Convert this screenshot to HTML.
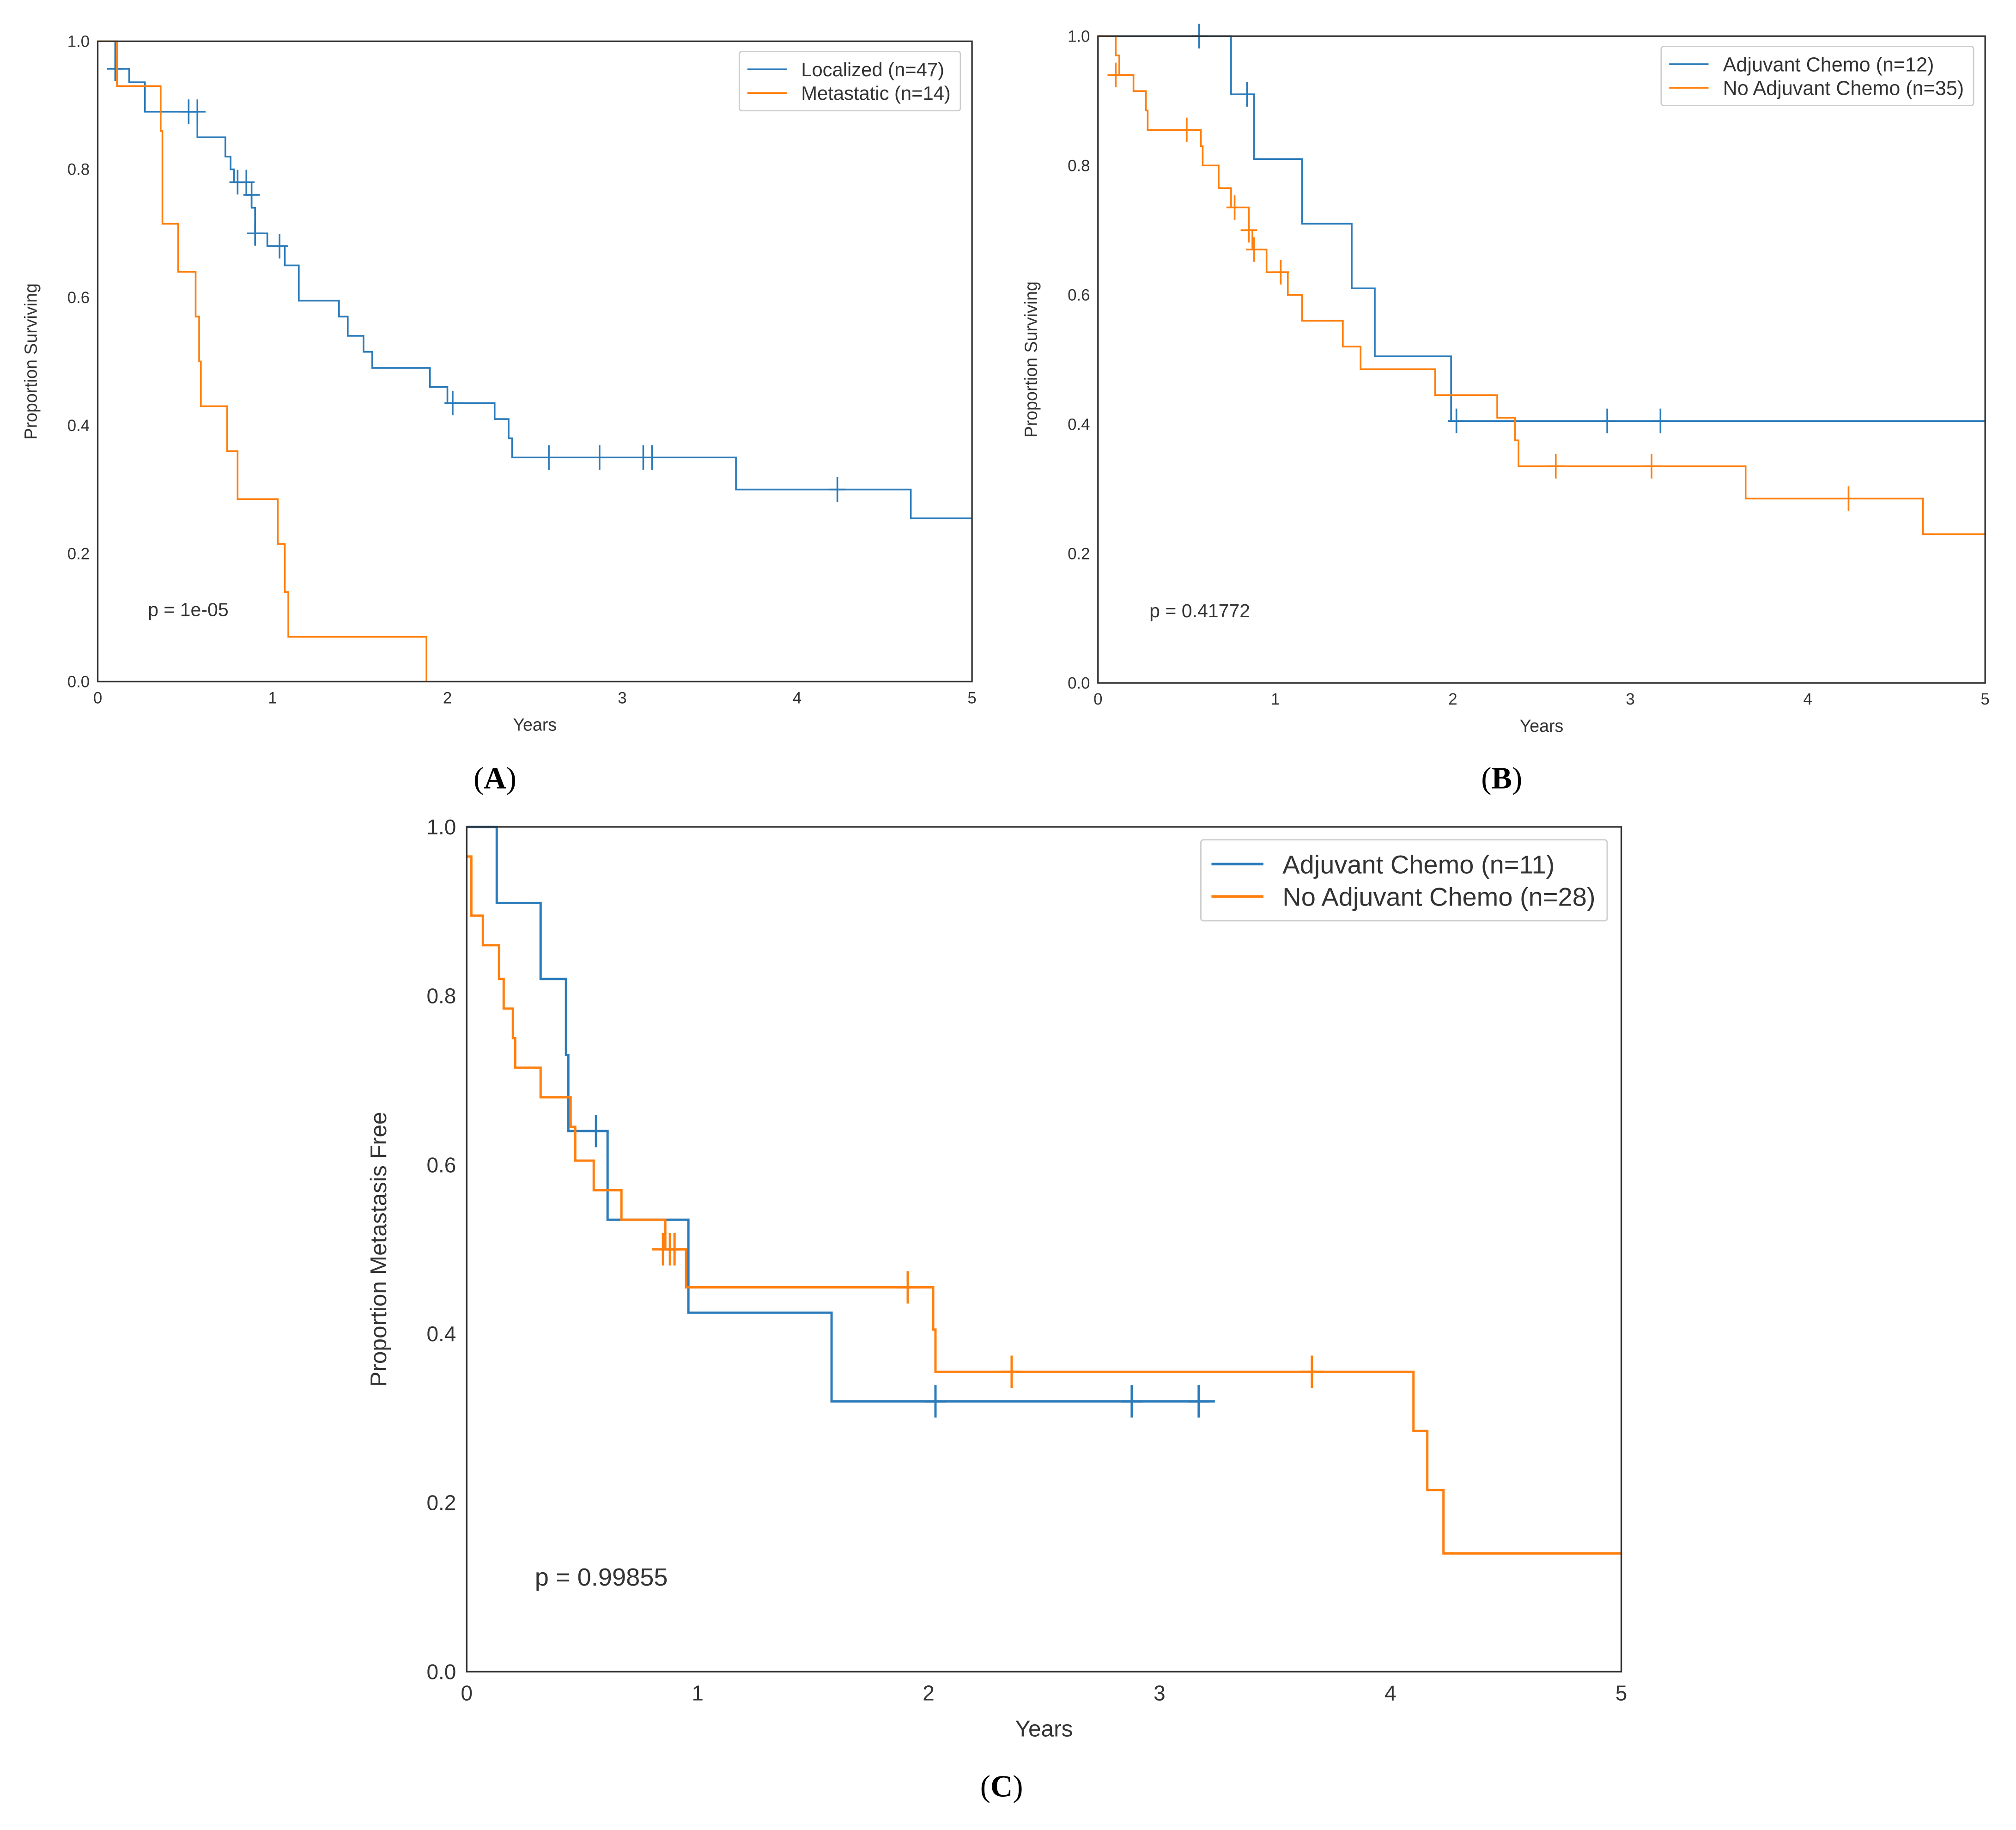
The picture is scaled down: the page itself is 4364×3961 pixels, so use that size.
<!DOCTYPE html>
<html><head><meta charset="utf-8"><style>
html,body{margin:0;padding:0;background:#fff;}
svg{display:block;}
text{font-family:"Liberation Sans",sans-serif;fill:#333;}
</style></head><body>
<svg id="fig" width="4364" height="3961" viewBox="0 0 1568 1423" xmlns="http://www.w3.org/2000/svg">
<rect width="1568" height="1423" fill="#fff"/>
</svg>
<script>
// Panel A data
const aLocT=[0,0.1,0.18,0.27,0.57,0.73,0.76,0.78,0.85,0.88,0.9,0.97,1.07,1.15,1.38,1.43,1.52,1.57,1.9,2.0,2.27,2.35,2.37,3.65,4.65,5];
const aLocS=[1,0.957,0.936,0.89,0.85,0.82,0.80,0.78,0.76,0.74,0.70,0.68,0.65,0.595,0.57,0.54,0.515,0.49,0.46,0.435,0.41,0.38,0.35,0.30,0.255,0.255];
const aLocCT=[0.1,0.52,0.57,0.8,0.85,0.88,0.9,1.04,2.03,2.58,2.87,3.12,3.17,4.23];
const aLocCS=[0.957,0.89,0.89,0.78,0.78,0.76,0.70,0.68,0.435,0.35,0.35,0.35,0.35,0.30];
const aMetT=[0,0.11,0.36,0.37,0.46,0.56,0.58,0.59,0.74,0.8,1.03,1.07,1.09,1.88];
const aMetS=[1,0.93,0.86,0.715,0.64,0.57,0.50,0.43,0.36,0.285,0.215,0.14,0.07,0];
// Panel B data
const bAdjT=[0,0.75,0.88,1.15,1.43,1.56,1.99,5];
const bAdjS=[1,0.91,0.81,0.71,0.61,0.505,0.405,0.405];
const bAdjCT=[0.57,0.84,2.02,2.87,3.17];
const bAdjCS=[1,0.91,0.405,0.405,0.405];
const bNoT=[0,0.1,0.12,0.2,0.27,0.28,0.58,0.59,0.68,0.75,0.85,0.87,0.95,1.07,1.15,1.38,1.48,1.9,2.25,2.35,2.37,3.65,4.65,5];
const bNoS=[1,0.97,0.94,0.915,0.885,0.855,0.83,0.80,0.765,0.735,0.70,0.67,0.635,0.60,0.56,0.52,0.485,0.445,0.41,0.375,0.335,0.285,0.23,0.23];
const bNoCT=[0.1,0.5,0.77,0.85,0.88,1.03,2.58,3.12,4.23];
const bNoCS=[0.94,0.855,0.735,0.70,0.67,0.635,0.335,0.335,0.285];
// Panel C data
const cAdjT=[0,0.13,0.32,0.43,0.44,0.45,0.61,0.96,1.58,3.24];
const cAdjS=[1,0.91,0.82,0.73,0.64,0.64,0.535,0.425,0.32,0.32];
const cAdjCT=[0.56,2.03,2.88,3.17];
const cAdjCS=[0.64,0.32,0.32,0.32];
const cNoT=[0,0.02,0.07,0.14,0.16,0.2,0.21,0.32,0.45,0.47,0.55,0.67,0.86,0.95,2.02,2.03,4.1,4.16,4.23,5];
const cNoS=[0.965,0.895,0.86,0.82,0.785,0.75,0.715,0.68,0.645,0.605,0.57,0.535,0.50,0.455,0.405,0.355,0.285,0.215,0.14,0.14];
const cNoCT=[0.85,0.88,0.9,1.91,2.36,3.66];
const cNoCS=[0.50,0.50,0.50,0.455,0.355,0.355];
const xTicks=[0,1,2,3,4,5];
const yTicks=["0.0","0.2","0.4","0.6","0.8","1.0"];

const NS="http://www.w3.org/2000/svg";
const svg=document.getElementById('fig');
function mk(tag,attrs,parent,txt){const e=document.createElementNS(NS,tag);for(const k in attrs)e.setAttribute(k,attrs[k]);if(txt!==undefined)e.textContent=txt;(parent||svg).appendChild(e);return e;}

function panel(id,x0,x1,y0,y1,fs,ylabel,pText,pPos,series,legend,caption){
  const g=mk('g',{});
  
  
  const X=t=>x0+(x1-x0)*t/5, Y=s=>y1-(y1-y0)*s;
  xTicks.forEach(t=>{const tx=mk('text',{x:X(t),y:y1+fs*1.35,'font-size':fs,'text-anchor':'middle'},g,String(t));
    });
  yTicks.forEach(v=>{const tx=mk('text',{x:x0-fs*0.5,y:Y(parseFloat(v))+fs*0.35,'font-size':fs,'text-anchor':'end'},g,v);
    });
  const xl=mk('text',{x:(x0+x1)/2,y:y1+fs*3.05,'font-size':fs*1.08,'text-anchor':'middle'},g,'Years');
  
  const yx=x0-fs*3.8, yy=(y0+y1)/2;
  const yl=mk('text',{x:yx,y:yy,'font-size':fs*1.08,'text-anchor':'middle',transform:`rotate(-90 ${yx} ${yy})`},g,ylabel);
  
  const cl=Math.max(fs*0.85,8);
  series.forEach(s=>{
    let d=`M${X(s.t[0])},${Y(s.s[0])}`;
    for(let i=1;i<s.t.length;i++){d+=`H${X(s.t[i])}V${Y(s.s[i])}`;}
    const p=mk('path',{d:d,fill:'none',stroke:s.c,'stroke-width':fs>14?1.8:1.3},g);
    
    s.ct.forEach((t,i)=>{const m=mk('path',{d:`M${X(t)-cl*0.6},${Y(s.cs[i])}h${cl*1.2}M${X(t)},${Y(s.cs[i])-cl*0.9}v${cl*1.8}`,stroke:s.c,'stroke-width':fs>14?1.8:1.3},g);
      });
  });
  const fr=mk('rect',{x:x0,y:y0,width:x1-x0,height:y1-y0,fill:'none',stroke:'#333','stroke-width':1.2},g);
  
  const pt=mk('text',{x:pPos[0],y:pPos[1],'font-size':fs*1.18},g,pText);
  
  const lg=mk('g',{},g);
  
  mk('rect',{x:legend.x,y:legend.y,width:legend.w,height:legend.h,fill:'#fff',stroke:'#ccc','stroke-width':1,rx:2},lg);
  series.forEach((s,i)=>{
    const ly=legend.y+legend.h*(0.3+0.4*i);
    mk('line',{x1:legend.x+fs*0.5,x2:legend.x+fs*2.95,y1:ly,y2:ly,stroke:s.c,'stroke-width':fs>14?2:1.3},lg);
    const t=mk('text',{x:legend.x+fs*3.85,y:ly+fs*legend.fsk*0.36,'font-size':fs*legend.fsk},lg,s.label);
    
  });
  const cp=mk('text',{x:caption[0],y:caption[1],'font-size':24,'text-anchor':'middle',style:'font-family:"Liberation Serif",serif;fill:#000'},g);
  
  cp.innerHTML='(<tspan font-weight="bold">'+caption[2]+'</tspan>)';
}
const BLUE='#2b7bba', ORANGE='#ff7f0e';
panel('panel-a',76,756,32,530,12.5,'Proportion Surviving','p = 1e-05',[115,479],[
  {name:'localized',t:aLocT,s:aLocS,ct:aLocCT,cs:aLocCS,c:BLUE,label:'Localized (n=47)'},
  {name:'metastatic',t:aMetT,s:aMetS,ct:[],cs:[],c:ORANGE,label:'Metastatic (n=14)'}],
  {x:575,y:40,w:172,h:46,fsk:1.2},[385,613,'A']);
panel('panel-b',854,1544,28,531,12.5,'Proportion Surviving','p = 0.41772',[894,480],[
  {name:'adjuvant-chemo',t:bAdjT,s:bAdjS,ct:bAdjCT,cs:bAdjCS,c:BLUE,label:'Adjuvant Chemo (n=12)'},
  {name:'no-adjuvant-chemo',t:bNoT,s:bNoS,ct:bNoCT,cs:bNoCS,c:ORANGE,label:'No Adjuvant Chemo (n=35)'}],
  {x:1292,y:36,w:243,h:46,fsk:1.24},[1168,613,'B']);
panel('panel-c',363,1261,643,1300,16.5,'Proportion Metastasis Free','p = 0.99855',[416,1233],[
  {name:'adjuvant-chemo',t:cAdjT,s:cAdjS,ct:cAdjCT,cs:cAdjCS,c:BLUE,label:'Adjuvant Chemo (n=11)'},
  {name:'no-adjuvant-chemo',t:cNoT,s:cNoS,ct:cNoCT,cs:cNoCS,c:ORANGE,label:'No Adjuvant Chemo (n=28)'}],
  {x:934,y:653,w:316,h:63,fsk:1.22},[779,1397,'C']);
</script>
</body></html>
